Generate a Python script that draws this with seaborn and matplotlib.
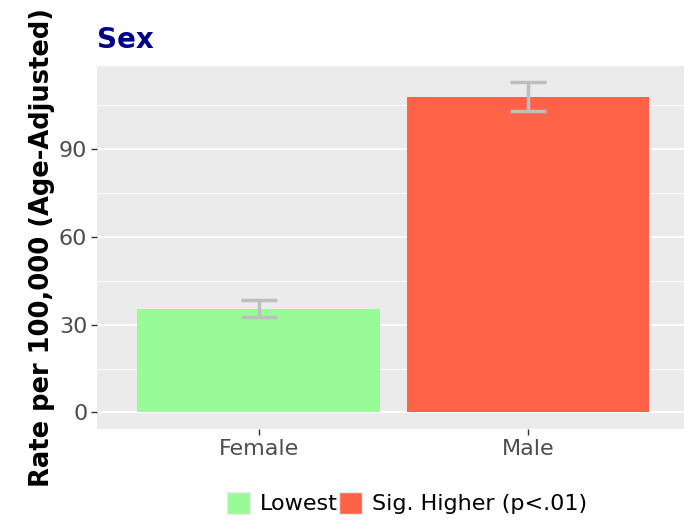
import numpy as np
import pandas as pd
import matplotlib
matplotlib.use('Agg')
import matplotlib.pyplot as plt
import matplotlib.patches as mpatches
from matplotlib.ticker import MultipleLocator
import seaborn as sns

# data
categories = ['Female', 'Male']
rates = [35.3, 108.0]
ci_low = [32.6, 103.0]
ci_high = [38.5, 113.0]
groups = ['Lowest', 'Sig. Higher (p<.01)']
group_colors = ['#98FB98', '#FF6347']

sns.set_style('white')
plt.rcParams['font.family'] = ['DejaVu Sans']

df = pd.DataFrame({'Sex': categories, 'Rate': rates, 'Group': groups})

fig = plt.figure(figsize=(6.84, 5.24), dpi=100)
ax = fig.add_axes([97 / 684, 1 - 429 / 524, 587 / 684, (429 - 65.5) / 524])
ax.set_facecolor('#EBEBEB')

# grid first so it sits under the bars
ax.set_axisbelow(True)
ax.yaxis.set_major_locator(MultipleLocator(30))
ax.yaxis.set_minor_locator(MultipleLocator(15))
ax.grid(which='major', color='white', linewidth=1.3)
ax.grid(which='minor', axis='y', color='white', linewidth=0.6)

sns.barplot(data=df, x='Sex', y='Rate', hue='Group', palette=group_colors,
            width=0.9, dodge=False, errorbar=None, legend=False, ax=ax,
            saturation=1, edgecolor='none')

xpos = np.arange(len(categories))
yerr = [np.array(rates) - np.array(ci_low), np.array(ci_high) - np.array(rates)]
ax.errorbar(xpos, rates, yerr=yerr, fmt='none', ecolor='#BEBEBE',
            elinewidth=2.5, capsize=13, capthick=2.5, zorder=5)

ax.set_xlim(-0.6, 1.58)
ax.set_ylim(-5.65, 118.65)
ax.set_xlabel('')
ax.set_ylabel('Rate per 100,000 (Age-Adjusted)', fontsize=18.5, fontweight='bold',
              color='black', labelpad=3)
for s in ax.spines.values():
    s.set_visible(False)
ax.tick_params(axis='both', which='major', labelsize=16, labelcolor='#4D4D4D',
               color='#333333', length=4, width=1, left=True, bottom=True, pad=3)
ax.tick_params(axis='y', which='minor', left=False)
ax.yaxis.set_major_formatter(matplotlib.ticker.FuncFormatter(lambda v, p: f'{int(v)}'))

fig.text(97 / 684, 1 - 40 / 524, 'Sex', fontsize=20, fontweight='bold',
         color='#00008B', ha='left', va='center')

handles = [mpatches.Patch(facecolor=c, edgecolor='#EBEBEB', label=g)
           for g, c in zip(groups, group_colors)]
fig.legend(handles=handles, loc='center', bbox_to_anchor=(407 / 684, 1 - 503 / 524),
           ncol=2, frameon=False, fontsize=16, handlelength=1.05, handleheight=1.15,
           handletextpad=0.45, columnspacing=0.05, labelcolor='black')

fig.savefig('out.png', dpi=100)
